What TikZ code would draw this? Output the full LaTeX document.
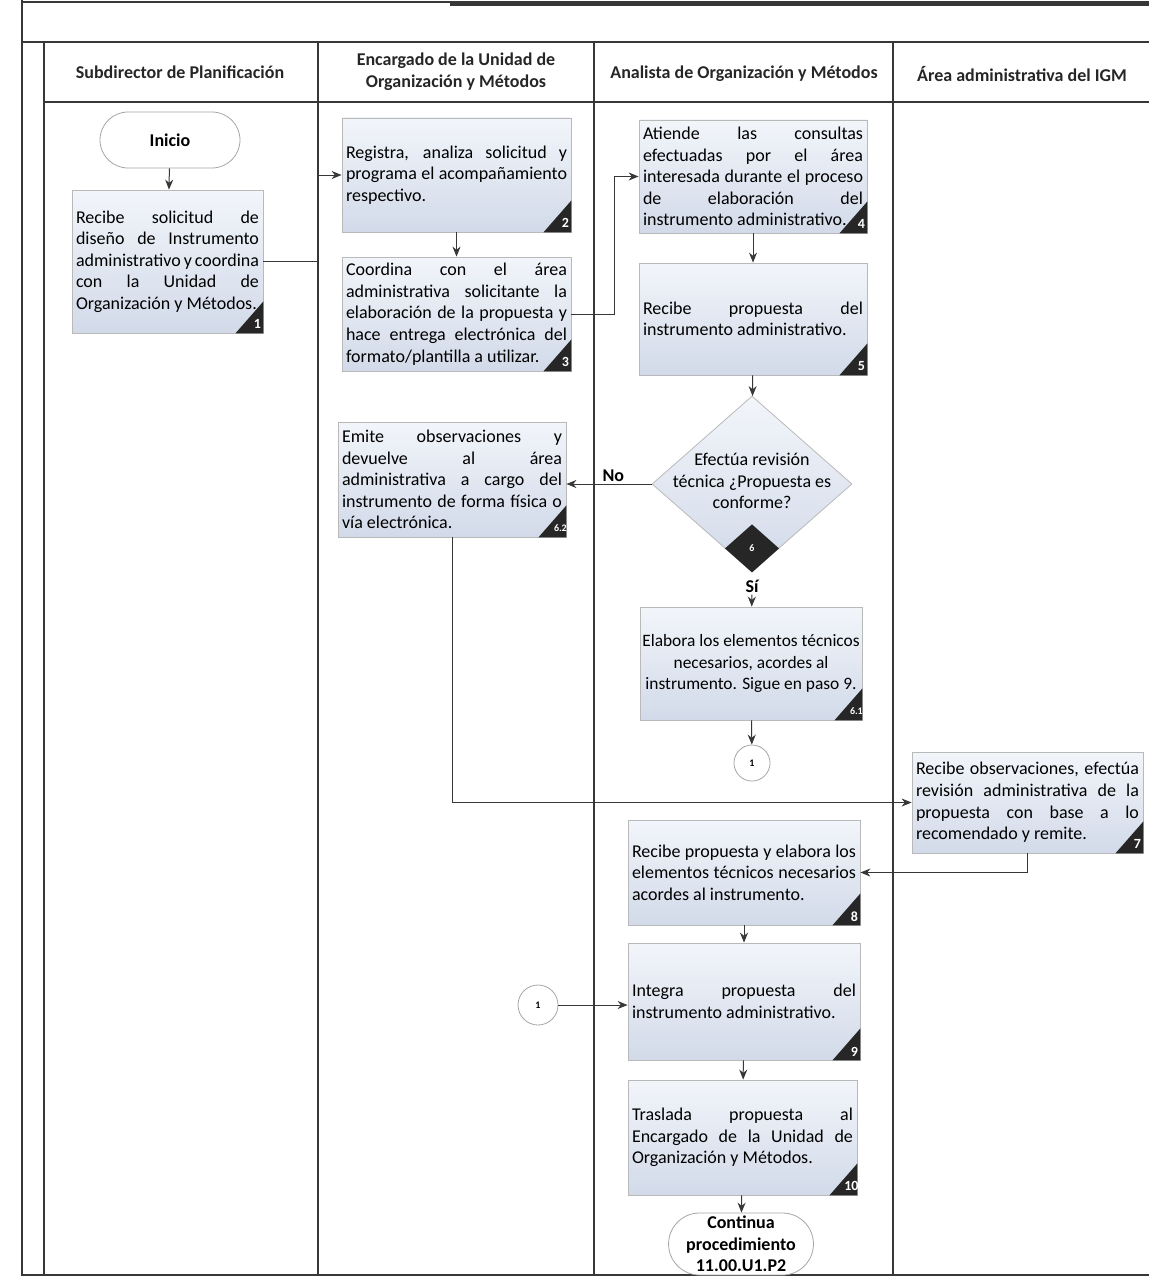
\documentclass[tikz,border=0pt]{standalone}
\usepackage{fontspec}
\setmainfont{Carlito}
\usetikzlibrary{shapes.geometric,shapes.misc,arrows.meta}

\definecolor{cajaclara}{RGB}{242,245,250}
\definecolor{cajaoscura}{RGB}{210,218,233}
\definecolor{trazo}{RGB}{55,55,55}
\newcommand{\cuerpo}{\fontsize{9}{10.8}\selectfont\hyphenpenalty=10000\exhyphenpenalty=10000\tolerance=10000}

\tikzset{
  marco/.style={draw=trazo,line width=0.7pt},
  flecha/.style={draw=trazo,line width=0.5pt,-{Stealth[length=5pt,width=4pt]}},
  titulo/.style={font=\cuerpo\bfseries,align=center,text=black!85},
  paso/.style={draw=gray!55,top color=cajaclara,bottom color=cajaoscura,
    align=justify,inner xsep=2pt,inner ysep=2pt,font=\cuerpo},
  decision/.style={diamond,draw=gray!55,top color=cajaclara,bottom color=cajaoscura,
    inner sep=0pt},
  terminal/.style={rounded rectangle,draw=gray!70,fill=white,inner sep=0pt,
    align=center,font=\cuerpo\bfseries},
  conector/.style={circle,draw=gray!70,fill=white,inner sep=0pt,font=\tiny\bfseries},
  etiqueta/.style={font=\cuerpo\bfseries,inner sep=1pt},
  numero/.style={text=white,font=\fontsize{7}{8}\selectfont\bfseries,inner sep=0pt}
}
\newcommand{\marcapaso}[2]{%
  \fill[black!85] (#1.south east) -- ++(0,-32) -- ++(-28,32) -- cycle;
  \node[numero] at ([shift={(-6,-9)}]#1.south east) {#2};}

\begin{document}
\begin{tikzpicture}[x=0.5pt,y=-0.5pt]
  \useasboundingbox (0,0) rectangle (1149,1279);
  \draw[marco] (22,2) -- (1149,2);
  \draw[draw=trazo,line width=1.6pt] (450,4) -- (1149,4);
  \draw[marco] (22,0) -- (22,1275) -- (1149,1275);
  \draw[marco] (22,42) -- (1149,42);
  \draw[marco] (44,102) -- (1149,102);
  \draw[marco] (44,42) -- (44,1275);
  \draw[marco] (318,42) -- (318,1275);
  \draw[marco] (594,42) -- (594,1275);
  \draw[marco] (893,42) -- (893,1275);

  \node[titulo] (h1) at (180,72) {Subdirector de Planificación};
  \node[titulo] (h2) at (456,72) {Encargado de la Unidad de\\Organización y Métodos};
  \node[titulo] (h3) at (744,74) {Analista de Organización y Métodos};
  \node[titulo] (h4) at (1022,74) {Área administrativa del IGM};

  \node[terminal,minimum width=70pt,minimum height=28pt] (inicio) at (170,140) {Inicio};
  \node[paso,text width=91.5pt,minimum height=71.5pt] (p1) at (167.5,261.5)
    {Recibe solicitud de\linebreak diseño de Instrumento\linebreak administrativo y coordina\linebreak con la Unidad de\linebreak Organización y Métodos.};
  \node[paso,text width=110.5pt,minimum height=57pt] (p2) at (456.5,175)
    {Registra, analiza solicitud y\linebreak programa el acompañamiento\linebreak respectivo.};
  \node[paso,text width=110.5pt,minimum height=57pt] (p3) at (456.5,314)
    {Coordina con el área\linebreak administrativa solicitante la\linebreak elaboración de la propuesta y\linebreak hace entrega electrónica del\linebreak formato/plantilla a utilizar.};
  \node[paso,text width=110pt,minimum height=56.5pt] (p4) at (753,176.5)
    {Atiende las consultas\linebreak efectuadas por el área\linebreak interesada durante el proceso\linebreak de elaboración del\linebreak instrumento administrativo.};
  \node[paso,text width=110pt,minimum height=56pt] (p5) at (753,319)
    {Recibe propuesta del\linebreak instrumento administrativo.};
  \node[decision,minimum width=100pt,minimum height=88pt] (d6) at (752,484) {};
  \node[font=\cuerpo,align=center] (t6) at (752,481) {Efectúa revisión\\técnica ¿Propuesta es\\conforme?};
  \node[paso,text width=110pt,minimum height=57.5pt] (p62) at (452,479.5)
    {Emite observaciones y\linebreak devuelve al área\linebreak administrativa a cargo del\linebreak instrumento de forma física o\linebreak vía electrónica.};
  \node[etiqueta] (si) at (752,586) {Sí};
  \node[paso,align=center,inner xsep=1pt,minimum width=111pt,minimum height=56.5pt,
    font=\fontsize{8.7}{10.8}\selectfont] (p61) at (751,663.5)
    {Elabora los elementos técnicos\\necesarios, acordes al\\instrumento. Sigue en paso 9.};
  \node[conector,minimum size=18pt] (c1a) at (752,763) {1};
  \node[paso,text width=111.5pt,minimum height=50.5pt] (p7) at (1027.5,802.5)
    {Recibe observaciones, efectúa\linebreak revisión administrativa de la\linebreak propuesta con base a lo\linebreak recomendado y remite.};
  \node[paso,text width=112pt,minimum height=52.5pt] (p8) at (744,872.5)
    {Recibe propuesta y elabora los\linebreak elementos técnicos necesarios\linebreak acordes al instrumento.};
  \node[paso,text width=112pt,minimum height=58.5pt] (p9) at (744,1001.5)
    {Integra propuesta del\linebreak instrumento administrativo.};
  \node[conector,minimum size=20pt] (c1b) at (538,1005) {1};
  \node[paso,text width=110.5pt,minimum height=57.5pt] (p10) at (742.5,1137.5)
    {Traslada propuesta al\linebreak Encargado de la Unidad de\linebreak Organización y Métodos.};
  \node[terminal,minimum width=71pt,minimum height=31pt] (fin) at (741,1244)
    {Continua\\procedimiento\\11.00.U1.P2};

  \marcapaso{p1}{1}
  \marcapaso{p2}{2}
  \marcapaso{p3}{3}
  \marcapaso{p4}{4}
  \marcapaso{p5}{5}
  \marcapaso{p62}{\tiny 6.2}
  \marcapaso{p61}{\tiny 6.1}
  \marcapaso{p7}{7}
  \marcapaso{p8}{8}
  \marcapaso{p9}{9}
  \marcapaso{p10}{10}
  \fill[black!85] (d6.south) -- ++(-27,-24) -- ++(27,-24) -- ++(27,24) -- cycle;
  \node[numero,font=\tiny\bfseries] at ([shift={(0,-24)}]d6.south) {6};

  \coordinate (q1) at (318,0);
  \coordinate (q2) at (614,0);
  \draw[flecha] (inicio) -- (p1);
  \draw[flecha] (p1.east) -- (p1.east -| q1) |- (p2.west);
  \draw[flecha] (p2) -- (p3);
  \draw[flecha] (p3.east) -- (p3.east -| q2) |- (p4.west);
  \draw[flecha] (p4) -- (p5);
  \draw[flecha] (p5) -- (d6);
  \draw[flecha] (d6.west) -- node[etiqueta,above,pos=0.45] {No} (d6.west -| p62.east);
  \draw[flecha] (si) -- (p61);
  \draw[flecha] (p61) -- (c1a);
  \draw[flecha] (p62.south) |- (p7.west);
  \draw[flecha] (p7.south) |- (p8.east);
  \draw[flecha] (p8) -- (p9);
  \draw[flecha] (c1b) -- (p9.west |- c1b);
  \draw[flecha] (p9) -- (p10);
  \draw[flecha] (p10) -- (fin);
\end{tikzpicture}
\end{document}
